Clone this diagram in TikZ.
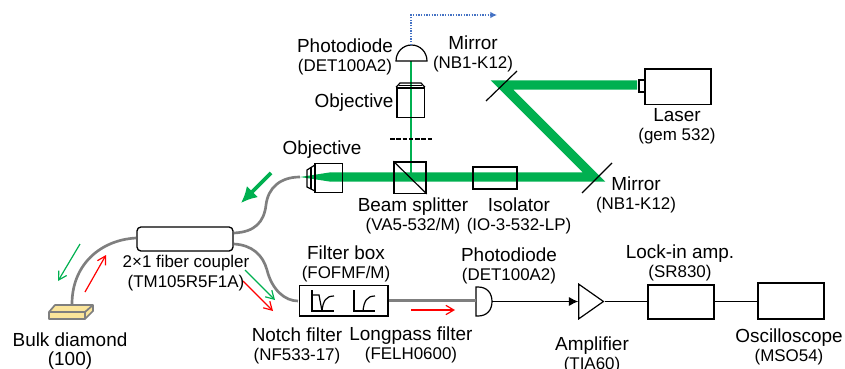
\documentclass[tikz,border=0pt]{standalone}
\usepackage{fontspec}
\setmainfont{Liberation Sans}
\usepackage{xcolor}
\usetikzlibrary{shapes.geometric, arrows.meta}
\definecolor{beamgreen}{HTML}{00B050}
\definecolor{fibergray}{HTML}{7F7F7F}
\definecolor{dotblue}{HTML}{4472C4}
\definecolor{diamondfill}{HTML}{FBE59A}
\newcommand{\partno}[1]{{\fontsize{12.7}{14.6}\selectfont #1}}
\tikzstyle{label} = [align=center, font=\fontsize{14.2}{14.6}\selectfont, inner sep=0pt]
\tikzstyle{device} = [rectangle, draw, line width=1pt, inner sep=0pt]
\tikzstyle{beam} = [beamgreen, line width=7pt]
\tikzstyle{thinbeam} = [beamgreen, line width=0.9pt]
\tikzstyle{fiber} = [fibergray, line width=2pt]
\tikzstyle{wire} = [black, line width=0.9pt]
\tikzstyle{mirror} = [black, line width=0.9pt]
\tikzstyle{redarrow} = [-{Straight Barb[length=6pt,width=7pt]}, red, line width=0.9pt]
\tikzstyle{greenarrow} = [-{Straight Barb[length=6pt,width=7pt]}, beamgreen, line width=0.9pt]
\tikzstyle{trace} = [line width=0.9pt]

\begin{document}
\begin{tikzpicture}[x=0.75pt, y=-0.75pt]
\useasboundingbox (0,0) rectangle (845,368);

% Points on the free space path
\coordinate (laserout) at (637,85);
\coordinate (topvertex) at (502,85);
\coordinate (lowvertex) at (594,177);
\coordinate (beamstart) at (330,177);
\coordinate (fibertip) at (300,177);
\coordinate (splitter) at (411,177);
\coordinate (pdtop) at (411,61);
\coordinate (pdsignal) at (411,45);

% Green beams, under the devices
\draw[beam, line join=miter] (laserout) -- (topvertex) -- (lowvertex) -- (beamstart);
\fill[beamgreen] (fibertip) -- (330,172.4) -- (330,181.6) -- cycle;
\draw[thinbeam] (splitter) -- (pdtop);

% Devices of the free space part
\node[device, minimum width=49.5pt, minimum height=26.5pt] (laser) at (678,86.5) {};
\node[device, minimum width=4.5pt, minimum height=9pt] (laserhead) at (642,86) {};
\node[device, minimum width=33pt, minimum height=16.5pt] (isolator) at (495,178) {};
\node[device, minimum width=24pt, minimum height=23.5pt] (bs) at (410,177.5) {};
\draw[wire] (bs.north west) -- (bs.south east);
\coordinate (mirrortopa) at (486,101);
\coordinate (mirrortopb) at (517,71);
\coordinate (mirrorlowa) at (582,193);
\coordinate (mirrorlowb) at (612,163);
\draw[mirror] (mirrortopa) -- (mirrortopb);
\draw[mirror] (mirrorlowa) -- (mirrorlowb);
\coordinate (plateleft) at (390,139);
\coordinate (plateright) at (432,139);
\draw[wire, dash pattern=on 3.5pt off 1.2pt] (plateleft) -- (plateright);

% Objective above the beam splitter
\node[device, minimum width=20.5pt, minimum height=22pt] (objtop) at (410.5,102.5) {};
\draw[trace] (objtop.north west) -- (400,83) -- (421,83) -- (objtop.north east);
\draw[trace] (399,85.5) -- (422,85.5);

% Objective at the fiber end
\node[device, minimum width=20.5pt, minimum height=22pt] (objleft) at (328.5,178) {};
\draw[trace] (315,165) -- (307,170) -- (307,187) -- (315,191);
\draw[trace] (311,167) -- (311,189);

% Photodiode above
\draw[trace] (396,61) .. controls (396,52) and (403,45) .. (411.5,45) .. controls (420,45) and (427,52) .. (427,61) -- cycle;
\coordinate (dotcorner) at (411,15);
\coordinate (dotend) at (497,15);
\draw[dotblue, line width=1pt, densely dotted, -{Latex[length=5pt,width=5pt]}] (pdsignal) -- (dotcorner) -- (dotend);

% Fibers
\node[device, rounded corners=3pt, minimum width=72pt, minimum height=18pt] (coupler) at (185,239) {};
\coordinate (couplerne) at (234,233);
\coordinate (couplerse) at (234,244);
\coordinate (couplerw) at (136,238);
\coordinate (diamondtop) at (72,304);
\coordinate (boxin) at (298,301);
\draw[fiber] (couplerne) .. controls (255,232) and (264,222) .. (266,205) .. controls (268,188) and (280,177) .. (fibertip);
\draw[fiber] (couplerw) .. controls (100,240) and (72,265) .. (diamondtop);
\draw[fiber] (couplerse) .. controls (252,245) and (263,255) .. (267,270) .. controls (272,290) and (285,301) .. (boxin);

% Bulk diamond
\fill[diamondfill] (49,312) -- (55,305) -- (93,305) -- (93,311) -- (85,319) -- (49,319) -- cycle;
\draw[fibergray, line width=1.3pt, line join=round] (49,312) -- (55,305) -- (93,305) -- (93,311) -- (85,319) -- (49,319) -- cycle;
\draw[fibergray, line width=1.3pt, line join=round] (49,312) -- (85,312) -- (93,305);
\draw[fibergray, line width=1.3pt] (85,312) -- (85,319);

% Filter box
\node[device, minimum width=66.5pt, minimum height=23pt] (filterbox) at (343.5,300.5) {};
\draw[trace] (312,290) -- (312,311) -- (334,311);
\draw[trace] (312,295) -- (319,295) -- (322,311);
\draw[trace] (322,311) .. controls (323,301) and (326,296) .. (334,296);
\draw[trace] (354,290) -- (354,311) -- (375,311);
\draw[trace] (363,311) .. controls (364,301) and (367,296) .. (375,296);

% Detection chain
\coordinate (pdin) at (476,300.5);
\coordinate (pdout) at (492,301.5);
\draw[trace] (476,287) -- (478,287) .. controls (487,287) and (492,293) .. (pdout) .. controls (492,310) and (487,316) .. (478,316) -- (476,316) -- cycle;
\draw[fiber] (filterbox.east) -- (pdin);
\node[isosceles triangle, draw, line width=0.9pt, anchor=apex, inner sep=0pt, isosceles triangle stretches, minimum width=26pt, minimum height=18.5pt] (amp) at (605,301.5) {};
\node[device, minimum width=49.5pt, minimum height=25.5pt] (lockin) at (681,302) {};
\node[device, minimum width=49.5pt, minimum height=27pt] (scope) at (791,301) {};
\draw[wire, -{Latex[length=7pt,width=7pt]}] (pdout) -- (amp.lower side);
\draw[wire] (amp.apex) -- (lockin.west |- amp.apex);
\draw[wire] (lockin.east |- amp.apex) -- (scope.west |- amp.apex);

% Direction arrows
\coordinate (biga) at (271,173);
\coordinate (bigb) at (241,203);
\draw[beamgreen, line width=2.7pt, -{Latex[length=12pt,width=12pt]}] (biga) -- (bigb);
\coordinate (ga) at (80,244);
\coordinate (gb) at (58,281);
\draw[greenarrow] (ga) -- (gb);
\coordinate (ra) at (85,292);
\coordinate (rb) at (106,255);
\draw[redarrow] (ra) -- (rb);
\coordinate (gc) at (245,270);
\coordinate (gd) at (275,300);
\draw[greenarrow] (gc) -- (gd);
\coordinate (rc) at (243,281);
\coordinate (rd) at (273,311);
\draw[redarrow] (rc) -- (rd);
\coordinate (re) at (411,310);
\coordinate (rf) at (455,310);
\draw[redarrow] (re) -- (rf);

% Labels
\node[label] (lblpdtop) at (345,57) {Photodiode\\\partno{(DET100A2)}};
\node[label] (lblmirrortop) at (473,54) {Mirror\\\partno{(NB1-K12)}};
\node[label] (lblobjtop) at (354,103) {Objective};
\node[label] (lblobjleft) at (322,150) {Objective};
\node[label] (lblbs) at (413,216) {Beam splitter\\\partno{(VA5-532/M)}};
\node[label] (lbliso) at (519,216) {Isolator\\\partno{(IO-3-532-LP)}};
\node[label] (lblmirrorlow) at (636,195) {Mirror\\\partno{(NB1-K12)}};
\node[label] (lbllaser) at (677,126) {Laser\\\partno{(gem 532)}};
\node[label] (lblcoupler) at (186,273) {\partno{2×1 fiber coupler}\\\partno{(TM105R5F1A)}};
\node[label] (lbldiamond) at (70,351) {Bulk diamond\\(100)};
\node[label] (lblnotch) at (297,346) {Notch filter\\\partno{(NF533-17)}};
\node[label] (lbllongpass) at (411,345) {Longpass filter\\\partno{(FELH0600)}};
\node[label] (lblfilter) at (346,264) {Filter box\\\partno{(FOFMF/M)}};
\node[label] (lblpdlow) at (509,266) {Photodiode\\\partno{(DET100A2)}};
\node[label] (lbllockin) at (680,263) {Lock-in amp.\\\partno{(SR830)}};
\node[label] (lblamp) at (592,355) {Amplifier\\\partno{(TIA60)}};
\node[label] (lblscope) at (789,347) {Oscilloscope\\\partno{(MSO54)}};

\end{tikzpicture}
\end{document}
